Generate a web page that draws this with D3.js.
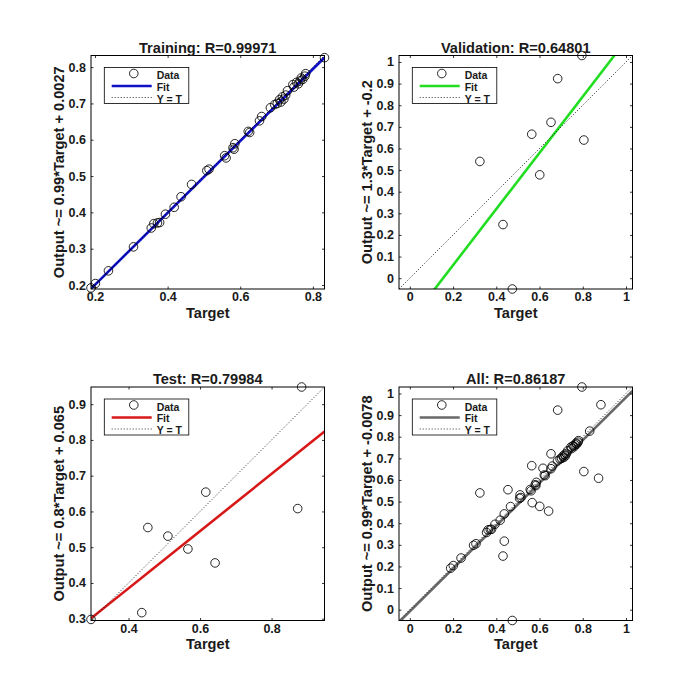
<!DOCTYPE html>
<html><head><meta charset="utf-8">
<script src="https://cdn.jsdelivr.net/npm/d3@7"></script>
<style>
body{margin:0;background:#fff}
svg{display:block}
text{font-family:"Liberation Sans",Arial,Helvetica,sans-serif;font-weight:bold;fill:#1a1a1a}
</style>
</head><body><svg id="c" width="700" height="700"></svg>
<script>
// ---------- data ----------
const trainTargets = [0.189,0.201,0.237,0.306,0.355,0.362,0.372,0.378,0.394,0.418,0.437,0.466,0.508,0.514,0.557,0.561,0.580,0.585,0.583,0.622,0.626,0.653,0.659,0.683,0.695,0.702,0.708,0.712,0.716,0.720,0.725,0.730,0.745,0.748,0.755,0.760,0.765,0.768,0.772,0.778,0.780,0.832];
const trainOutputs = [0.192,0.204,0.239,0.305,0.357,0.369,0.371,0.372,0.395,0.414,0.443,0.477,0.515,0.519,0.556,0.550,0.578,0.589,0.574,0.623,0.620,0.652,0.664,0.688,0.697,0.700,0.710,0.704,0.718,0.712,0.723,0.735,0.752,0.745,0.758,0.754,0.762,0.770,0.766,0.775,0.782,0.826];
const valTargets = [0.796,0.684,0.653,0.564,0.805,0.324,0.601,0.431,0.474];
const valOutputs = [1.030,0.923,0.721,0.666,0.639,0.540,0.478,0.248,-0.050];
const testTargets = [0.884,0.616,0.873,0.454,0.510,0.566,0.642,0.437,0.295];
const testOutputs = [0.948,0.654,0.608,0.555,0.531,0.495,0.456,0.317,0.298];
const allTargets = trainTargets.concat(valTargets, testTargets);
const allOutputs = trainOutputs.concat(valOutputs, testOutputs);

const titles = ["Training: R=0.99971","Validation: R=0.64801","Test: R=0.79984","All: R=0.86187"];
const yLabels = ["Output ~= 0.99*Target + 0.0027","Output ~= 1.3*Target + -0.2","Output ~= 0.8*Target + 0.065","Output ~= 0.99*Target + -0.0078"];
const xLabel = "Target";
const fitSlopes = [0.99, 1.3, 0.8, 0.99];
const fitIntercepts = [0.0027, -0.2, 0.065, -0.0078];
const xTicks = [[0.2,0.4,0.6,0.8],[0,0.2,0.4,0.6,0.8,1],[0.4,0.6,0.8],[0,0.2,0.4,0.6,0.8,1]];
const yTicks = [[0.2,0.3,0.4,0.5,0.6,0.7,0.8],[0,0.1,0.2,0.3,0.4,0.5,0.6,0.7,0.8,0.9,1],[0.3,0.4,0.5,0.6,0.7,0.8,0.9],[0,0.1,0.2,0.3,0.4,0.5,0.6,0.7,0.8,0.9,1]];
const legendLabels = ["Data","Fit","Y = T"];
const targetsSets = [trainTargets, valTargets, testTargets, allTargets];
const outputsSets = [trainOutputs, valOutputs, testOutputs, allOutputs];

// ---------- style / layout ----------
const fitColors = ["#1010c8","#22dd22","#d81818","#686868"];
const origins = [[91,55.5],[399,55.5],[91,387],[399,387]];
const W = 233.5, H = 233.5;
const fmt = d => d === 0 ? "0" : d === 1 ? "1" : d3.format(".1f")(d);

const svg = d3.select("#c");
svg.append("rect").attr("width",700).attr("height",700).attr("fill","#fff");

for (let i = 0; i < 4; i++) {
  const T = targetsSets[i], O = outputsSets[i];
  const ext = d3.extent(T.concat(O));
  const x = d3.scaleLinear().domain(ext).range([0, W]);
  const y = d3.scaleLinear().domain(ext).range([H, 0]);
  const g = svg.append("g").attr("transform", `translate(${origins[i][0]},${origins[i][1]})`);

  const cid = "clip" + i;
  g.append("clipPath").attr("id", cid).append("rect").attr("width", W).attr("height", H);
  const plot = g.append("g").attr("clip-path", `url(#${cid})`);

  // fit line
  const fitPts = ext.map(t => [t, fitSlopes[i] * t + fitIntercepts[i]]);
  plot.append("path")
    .attr("d", d3.line().x(d => x(d[0])).y(d => y(d[1]))(fitPts))
    .attr("fill","none").attr("stroke", fitColors[i]).attr("stroke-width", 2.6);
  // Y = T
  plot.append("path")
    .attr("d", d3.line().x(d => x(d[0])).y(d => y(d[1]))(ext.map(t => [t, t])))
    .attr("fill","none").attr("stroke","#000").attr("stroke-width",0.9).attr("stroke-dasharray","1,2");
  // data circles
  g.append("g").selectAll("circle").data(T.map((t, k) => [t, O[k]])).join("circle")
    .attr("cx", d => x(d[0])).attr("cy", d => y(d[1])).attr("r", 4.3)
    .attr("fill","none").attr("stroke","#000").attr("stroke-width",0.85);

  // axes
  const axB = g.append("g").attr("transform", `translate(0,${H})`)
    .call(d3.axisBottom(x).tickValues(xTicks[i]).tickSize(-2.5).tickPadding(3.6).tickFormat(fmt));
  const axT = g.append("g").call(d3.axisTop(x).tickValues(xTicks[i]).tickSize(-2.5).tickFormat(""));
  const axL = g.append("g").call(d3.axisLeft(y).tickValues(yTicks[i]).tickSize(-2.5).tickPadding(5).tickFormat(fmt));
  const axR = g.append("g").attr("transform", `translate(${W},0)`)
    .call(d3.axisRight(y).tickValues(yTicks[i]).tickSize(-2.5).tickFormat(""));
  [axB, axT, axL, axR].forEach(a => {
    a.select(".domain").remove();
    a.selectAll("line").attr("stroke","#000").attr("stroke-width",0.8);
    a.selectAll("text").attr("font-size", 12.5).attr("fill","#1a1a1a")
      .attr("font-family",'"Liberation Sans",Arial,sans-serif').attr("font-weight","bold");
  });
  g.append("rect").attr("width", W).attr("height", H).attr("fill","none").attr("stroke","#000").attr("stroke-width",1);

  // legend
  const lg = g.append("g").attr("transform","translate(13.3,12)");
  lg.append("rect").attr("width",84.5).attr("height",36).attr("fill","#fff").attr("stroke","#000").attr("stroke-width",0.8);
  lg.append("circle").attr("cx",29.5).attr("cy",6).attr("r",4.3).attr("fill","none").attr("stroke","#000").attr("stroke-width",0.85);
  lg.append("line").attr("x1",7.4).attr("x2",47.4).attr("y1",18.5).attr("y2",18.5).attr("stroke",fitColors[i]).attr("stroke-width",2.6);
  lg.append("line").attr("x1",7.4).attr("x2",47.4).attr("y1",30).attr("y2",30).attr("stroke","#000").attr("stroke-width",0.8).attr("stroke-dasharray","1,2");
  [11.6, 23.4, 35.2].forEach((by, k) => {
    lg.append("text").attr("x",52.4).attr("y",by).attr("font-size",10.5).text(legendLabels[k]);
  });

  // titles & labels
  g.append("text").attr("x", W/2).attr("y", -3).attr("text-anchor","middle").attr("font-size",14.6).text(titles[i]);
  g.append("text").attr("x", W/2).attr("y", H + 28.6).attr("text-anchor","middle").attr("font-size",14.6).text(xLabel);
  g.append("text").attr("transform", `translate(-27,${H/2}) rotate(-90)`).attr("text-anchor","middle").attr("font-size",14.6).text(yLabels[i]);
}
</script></body></html>
